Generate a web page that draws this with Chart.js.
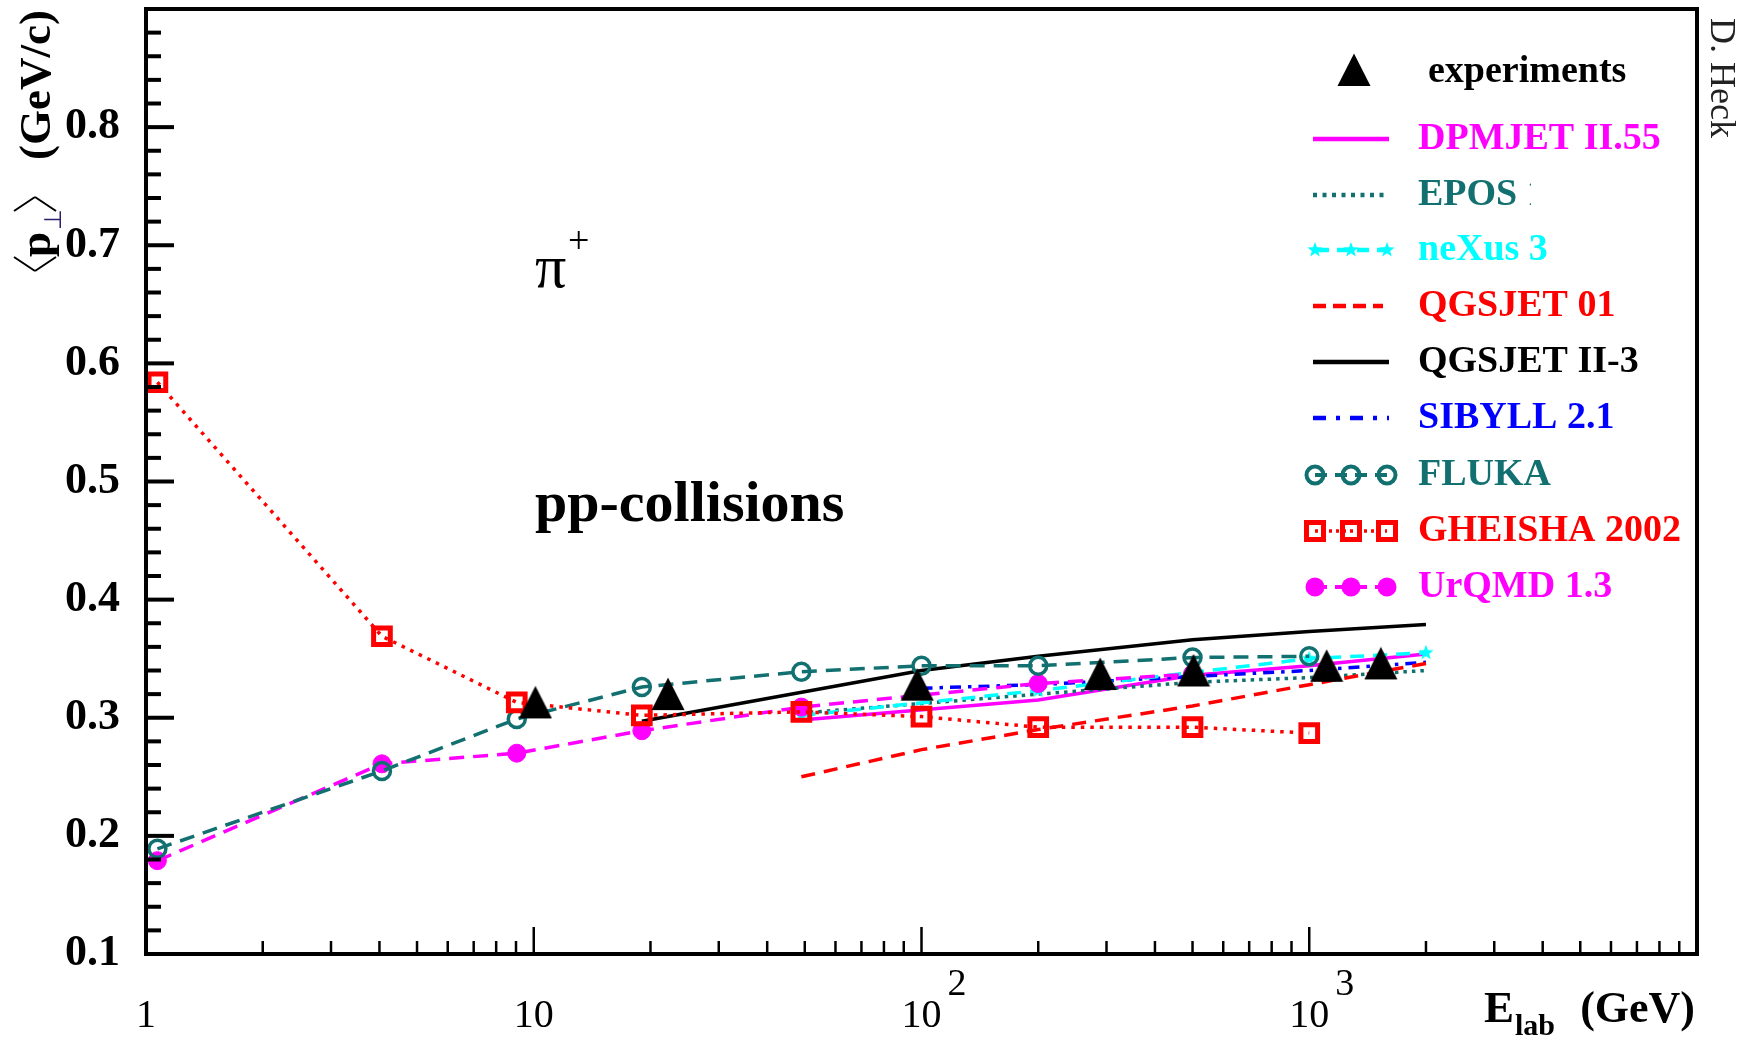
<!DOCTYPE html>
<html>
<head>
<meta charset="utf-8">
<script src="https://cdn.jsdelivr.net/npm/chart.js@4.4.1/dist/chart.umd.min.js"></script>
<style>
  html, body { margin: 0; padding: 0; background: #fff; }
  canvas { display: block; }
</style>
</head>
<body>
<canvas id="ptChart" width="1748" height="1040"></canvas>
<script>
// mean pT of pi+ in pp collisions vs. lab energy (GeV)
const expE  = [10.1, 22.2, 97.5, 289, 503, 1109, 1530]
const expPt = [0.313, 0.320, 0.328, 0.337, 0.340, 0.344, 0.346]

const dpmjetE  = [49, 200, 500, 1000, 2000]
const dpmjetPt = [0.298, 0.315, 0.336, 0.344, 0.354]

const eposE  = [49, 100, 200, 500, 1000, 2000]
const eposPt = [0.304, 0.312, 0.320, 0.330, 0.334, 0.340]

const nexusE  = [49, 200, 1000, 2000]
const nexusPt = [0.302, 0.323, 0.350, 0.355]

const qgs01E  = [49, 100, 200, 500, 1000, 2000]
const qgs01Pt = [0.250, 0.273, 0.290, 0.310, 0.328, 0.346]

const qgs2E  = [19, 100, 200, 500, 1000, 2000]
const qgs2Pt = [0.297, 0.340, 0.352, 0.366, 0.373, 0.379]

const sibyllE  = [100, 200, 500, 1000, 2000]
const sibyllPt = [0.325, 0.328, 0.335, 0.340, 0.347]

const lowE      = [1.07, 4.06, 9.04, 19, 49, 100, 200, 500, 1000]
const flukaPt   = [0.189, 0.255, 0.299, 0.326, 0.339, 0.344, 0.344, 0.351, 0.352]
const gheishaPt = [0.584, 0.369, 0.313, 0.302, 0.305, 0.301, 0.292, 0.292, 0.287]

const urqmdE  = [1.07, 4.06, 9.04, 19, 49, 200, 500]
const urqmdPt = [0.179, 0.261, 0.270, 0.289, 0.309, 0.329, 0.337]

// tick labels on the energy axis: base and exponent
const xLabelValues = [1, 10, 100, 1000]
const xLabelBase   = ["1", "10", "10", "10"]
const xLabelExp    = ["", "", "2", "3"]

const legendNames = ["experiments", "DPMJET II.55", "EPOS 1.6", "neXus 3", "QGSJET 01",
                     "QGSJET II-3", "SIBYLL 2.1", "FLUKA", "GHEISHA 2002", "UrQMD 1.3"]

const MAGENTA = "#ff00ff"
const TEAL = "#127070"
const CYAN = "#00ffff"
const RED = "#ff0000"
const BLUE = "#0000ff"
const BLACK = "#000000"
const SERIF = '"Liberation Serif", "Times New Roman", serif'

const legendColors = [BLACK, MAGENTA, TEAL, CYAN, RED, BLACK, BLUE, TEAL, RED, MAGENTA]

function triangleImage() {
    const c = document.createElement("canvas")
    c.width = 34
    c.height = 34
    const g = c.getContext("2d")
    g.fillStyle = BLACK
    g.beginPath()
    g.moveTo(0.5, 33)
    g.lineTo(33.5, 33)
    g.lineTo(17, 0.5)
    g.closePath()
    g.fill()
    return c
}

function starImage(r, color) {
    const c = document.createElement("canvas")
    const s = Math.ceil(2 * r + 2)
    c.width = s
    c.height = s
    const g = c.getContext("2d")
    g.fillStyle = color
    g.beginPath()
    for (let i = 0; i < 10; i++) {
        const rr = i % 2 ? r * 0.42 : r
        const a = -Math.PI / 2 + i * Math.PI / 5
        g.lineTo(s / 2 + rr * Math.cos(a), s / 2 + rr * Math.sin(a))
    }
    g.closePath()
    g.fill()
    return c
}

const triImg = triangleImage()
const starImg = starImage(8, CYAN)

const pts = (xs, ys) => xs.map((x, i) => ({ x: x, y: ys[i] }))

function series(label, xs, ys, color, dash, extra) {
    return Object.assign({
        label: label,
        data: pts(xs, ys),
        borderColor: color,
        backgroundColor: color,
        borderWidth: 3.5,
        borderDash: dash,
        borderCapStyle: "butt",
        pointRadius: 0,
        tension: 0,
        clip: false
    }, extra || {})
}

// ---- drawing helpers for texts, frame and legend ----
function line(ctx, x0, y0, x1, y1) {
    ctx.beginPath()
    ctx.moveTo(x0, y0)
    ctx.lineTo(x1, y1)
    ctx.stroke()
}

function text(ctx, str, x, y, font, color, align, base) {
    ctx.font = font
    ctx.fillStyle = color
    ctx.textAlign = align || "left"
    ctx.textBaseline = base || "alphabetic"
    ctx.fillText(str, x, y)
}

function sample(ctx, y, color, dash, lw, x0, x1) {
    ctx.save()
    ctx.strokeStyle = color
    ctx.lineWidth = lw
    ctx.setLineDash(dash)
    line(ctx, x0 || 1313, y, x1 || 1389, y)
    ctx.restore()
}

function openCircle(ctx, x, y, color) {
    ctx.save()
    ctx.strokeStyle = color
    ctx.lineWidth = 4
    ctx.beginPath()
    ctx.arc(x, y, 8.5, 0, Math.PI * 2)
    ctx.stroke()
    ctx.restore()
}

function fullCircle(ctx, x, y, color) {
    ctx.save()
    ctx.fillStyle = color
    ctx.beginPath()
    ctx.arc(x, y, 9.5, 0, Math.PI * 2)
    ctx.fill()
    ctx.restore()
}

function openSquare(ctx, x, y, color) {
    ctx.save()
    ctx.strokeStyle = color
    ctx.lineWidth = 5
    ctx.strokeRect(x - 8.5, y - 8.5, 17, 17)
    ctx.restore()
}

const decor = {
    id: "decor",
    afterDraw(chart) {
        const ctx = chart.ctx
        const a = chart.chartArea
        const xs = chart.scales.x
        const ys = chart.scales.y
        ctx.save()

        // frame
        ctx.strokeStyle = BLACK
        ctx.lineWidth = 4
        ctx.strokeRect(a.left, a.top, a.right - a.left, a.bottom - a.top)

        // y ticks, pointing inwards
        ys.ticks.forEach(t => {
            const y = ys.getPixelForValue(t.value)
            const major = Math.abs(t.value * 10 - Math.round(t.value * 10)) < 1e-6
            line(ctx, a.left, y, a.left + (major ? 28 : 15), y)
        })

        // x ticks, decades and 2..9
        ctx.lineWidth = 2.5
        for (let k = 0; k < 4; k++) {
            for (let m = 1; m <= 9; m++) {
                const v = m * Math.pow(10, k)
                const x = xs.getPixelForValue(v)
                line(ctx, x, a.bottom, x, a.bottom - (m === 1 ? 27 : 13))
            }
        }

        // exponents of the decade labels
        xLabelValues.forEach((v, i) => {
            if (!xLabelExp[i]) return
            const x = xs.getPixelForValue(v)
            text(ctx, xLabelExp[i], x + 26, a.bottom + 41, "38px " + SERIF, BLACK)
        })

        // x title
        text(ctx, "E", 1484, 1022, "bold 45px " + SERIF, BLACK)
        text(ctx, "lab", 1515, 1035, "bold 30px " + SERIF, BLACK)
        text(ctx, "(GeV)", 1695, 1022, "bold 44px " + SERIF, BLACK, "right")

        // y title, rotated
        ctx.save()
        ctx.translate(50, 273)
        ctx.rotate(-Math.PI / 2)
        ctx.strokeStyle = BLACK
        ctx.lineWidth = 2
        line(ctx, 16, -36, 2, -15)
        line(ctx, 2, -15, 16, 6)
        text(ctx, "p", 16, 0, "bold 45px " + SERIF, BLACK)
        text(ctx, "\u22a5", 43, 11, "24px " + SERIF, "#2b2070")
        line(ctx, 62, -36, 76, -15)
        line(ctx, 76, -15, 62, 6)
        text(ctx, "(GeV/c)", 263, 0, "bold 45px " + SERIF, BLACK, "right")
        ctx.restore()

        // signature
        ctx.save()
        ctx.translate(1711, 18)
        ctx.rotate(Math.PI / 2)
        text(ctx, "D. Heck", 0, 0, "36px " + SERIF, "#222")
        ctx.restore()

        // annotations
        text(ctx, "\u03c0", 535, 287, "62px " + SERIF, BLACK)
        text(ctx, "+", 568, 253, "38px " + SERIF, BLACK)
        text(ctx, "pp-collisions", 535, 521, "bold 58px " + SERIF, BLACK)

        // legend
        const rows = [72, 139, 195, 250, 306, 362, 418, 475, 531, 587]
        const mx = [1315, 1351, 1387]
        ctx.drawImage(triImg, 1354 - 17, rows[0] - 19)
        sample(ctx, rows[1], MAGENTA, [], 4.5)
        sample(ctx, rows[2], TEAL, [4, 5.5], 4.5)
        sample(ctx, rows[3], CYAN, [12, 8], 4.5, 1317, 1387)
        mx.forEach(x => ctx.drawImage(starImg, x - starImg.width / 2, rows[3] - starImg.height / 2))
        sample(ctx, rows[4], RED, [13, 7], 4.5, 1313, 1383)
        sample(ctx, rows[5], BLACK, [], 4.5)
        sample(ctx, rows[6], BLUE, [13, 10, 4, 10], 4.5)
        sample(ctx, rows[7], TEAL, [12, 8], 4, 1315, 1387)
        mx.forEach(x => openCircle(ctx, x, rows[7], TEAL))
        sample(ctx, rows[8], RED, [3, 4], 3.5, 1315, 1387)
        mx.forEach(x => openSquare(ctx, x, rows[8], RED))
        sample(ctx, rows[9], MAGENTA, [12, 8], 4, 1315, 1387)
        mx.forEach(x => fullCircle(ctx, x, rows[9], MAGENTA))

        legendNames.forEach((name, i) => {
            ctx.save()
            if (i === 2) {
                ctx.beginPath()
                ctx.rect(1400, rows[i] - 30, 131, 60)
                ctx.clip()
            }
            text(ctx, name, i === 0 ? 1428 : 1418, rows[i], "bold 38px " + SERIF,
                 legendColors[i], "left", "middle")
            ctx.restore()
        })

        ctx.restore()
    }
}

const ptChart = new Chart(
    document.getElementById("ptChart"),
    {
        type: "line",
        data: {
            datasets: [
                series("experiments", expE, expPt, BLACK, [], {
                    showLine: false, pointStyle: triImg, pointRadius: 10
                }),
                series("GHEISHA 2002", lowE, gheishaPt, RED, [3.5, 6], {
                    pointStyle: "rect", pointRadius: 11.8, pointBorderWidth: 5,
                    pointBorderColor: RED, pointBackgroundColor: "rgba(0,0,0,0)"
                }),
                series("FLUKA", lowE, flukaPt, TEAL, [15, 9], {
                    pointStyle: "circle", pointRadius: 8.5, pointBorderWidth: 3.5,
                    pointBorderColor: TEAL, pointBackgroundColor: "rgba(0,0,0,0)"
                }),
                series("UrQMD 1.3", urqmdE, urqmdPt, MAGENTA, [15, 9], {
                    pointStyle: "circle", pointRadius: 9, pointBorderWidth: 1,
                    pointBackgroundColor: MAGENTA
                }),
                series("neXus 3", nexusE, nexusPt, CYAN, [14, 9], {
                    pointStyle: starImg, pointRadius: 8
                }),
                series("QGSJET 01", qgs01E, qgs01Pt, RED, [14, 9]),
                series("QGSJET II-3", qgs2E, qgs2Pt, BLACK, []),
                series("SIBYLL 2.1", sibyllE, sibyllPt, BLUE, [11, 7, 3.5, 7]),
                series("EPOS 1.6", eposE, eposPt, TEAL, [3.5, 5]),
                series("DPMJET II.55", dpmjetE, dpmjetPt, MAGENTA, [])
            ]
        },
        options: {
            responsive: false,
            animation: false,
            events: [],
            layout: {
                autoPadding: false,
                padding: { top: 9, right: 51, left: 0, bottom: 0 }
            },
            plugins: {
                legend: { display: false },
                tooltip: { enabled: false }
            },
            scales: {
                x: {
                    type: "logarithmic",
                    min: 1,
                    max: 10000,
                    grid: { display: false },
                    border: { display: false },
                    afterFit: s => { s.height = 86; s.paddingLeft = 0; s.paddingRight = 0 },
                    ticks: {
                        autoSkip: false,
                        maxRotation: 0,
                        padding: 30,
                        color: BLACK,
                        font: { family: SERIF, size: 40 },
                        callback: v => {
                            const i = xLabelValues.indexOf(v)
                            return i < 0 ? "" : xLabelBase[i]
                        }
                    }
                },
                y: {
                    min: 0.1,
                    max: 0.9,
                    grid: { display: false },
                    border: { display: false },
                    afterFit: s => { s.width = 146; s.paddingTop = 0; s.paddingBottom = 0 },
                    ticks: {
                        stepSize: 0.02,
                        autoSkip: false,
                        includeBounds: false,
                        padding: 18,
                        color: BLACK,
                        font: { family: SERIF, size: 44, weight: "bold" },
                        callback: v => {
                            const major = Math.abs(v * 10 - Math.round(v * 10)) < 1e-6
                            return major && v < 0.85 ? v.toFixed(1) : ""
                        }
                    }
                }
            }
        },
        plugins: [decor]
    }
)
</script>
</body>
</html>
